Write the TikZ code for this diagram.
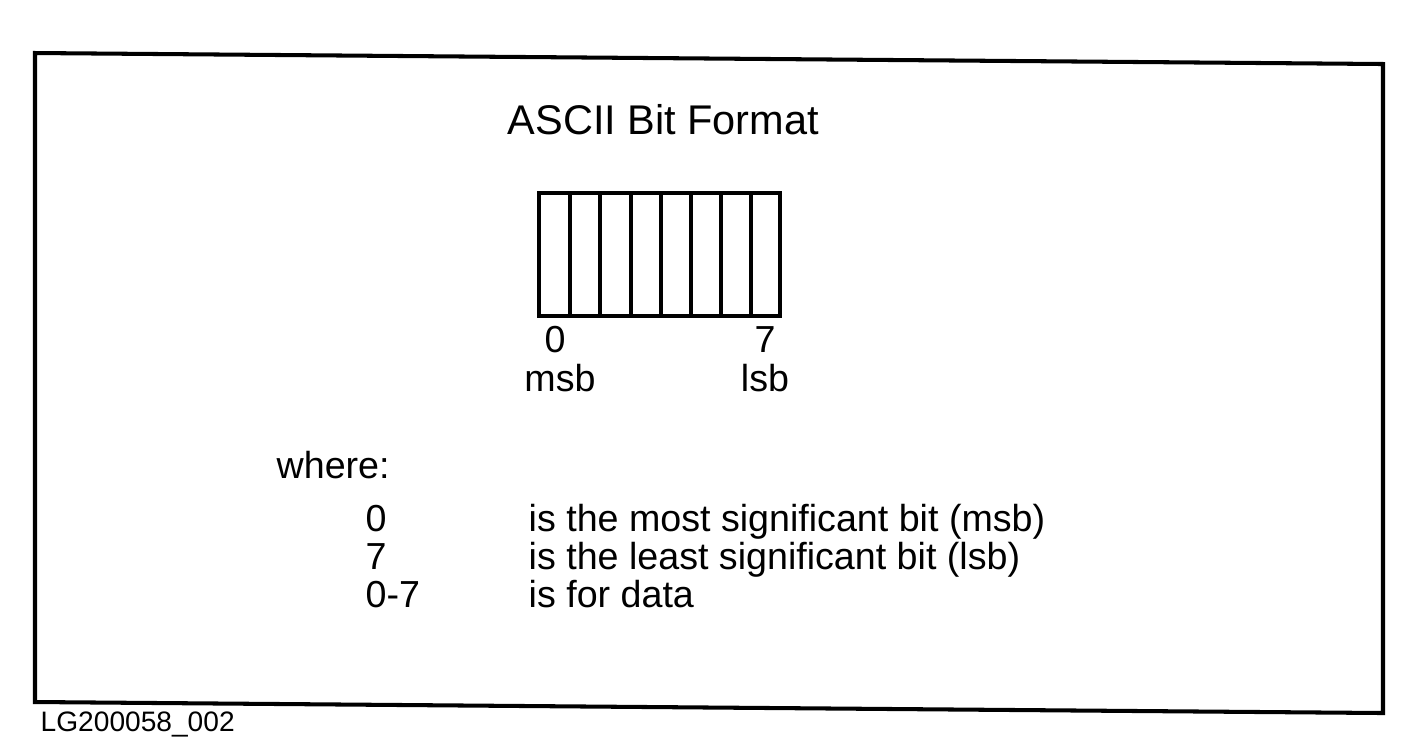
\documentclass[tikz,border=0pt]{standalone}
\usepackage{fontspec}
\setmainfont{Liberation Sans}
\usepackage{tikz}
\usetikzlibrary{positioning}

\tikzset{
  frameline/.style={line width=1.15pt, line join=miter},
  cellline/.style={line width=0.95pt},
  txt/.style={inner sep=0pt, font=\fontsize{10.7pt}{12pt}\selectfont},
}

\begin{document}
\begin{tikzpicture}[x=0.01cm, y=-0.01cm]
  \useasboundingbox (0,0) rectangle (1415,747);
  % outer frame (scan is a little skewed)
  \draw[frameline] (35,53) -- (1383,64) -- (1383,713) -- (35,702) -- cycle;
  \node[txt, anchor=base west, font=\fontsize{11.8pt}{13pt}\selectfont] (title) at (507,134) {ASCII Bit Format};
  % the eight bit cells
  \draw[cellline] (539,193) rectangle (780,316);
  \draw[cellline] (570,193) -- (570,316);
  \draw[cellline] (600,193) -- (600,316);
  \draw[cellline] (631,193) -- (631,316);
  \draw[cellline] (661,193) -- (661,316);
  \draw[cellline] (691,193) -- (691,316);
  \draw[cellline] (721,193) -- (721,316);
  \draw[cellline] (751,193) -- (751,316);
  \node[txt, anchor=base] (bitzero) at (555,352) {0};
  \node[txt, anchor=base] (bitseven) at (765,352) {7};
  \node[txt, anchor=base] (msb) at (560,391) {msb};
  \node[txt, anchor=base] (lsb) at (765,391) {lsb};
  % legend
  \node[txt, anchor=base west] (where) at (276,478) {where:};
  \node[txt, anchor=base west] (keyzero) at (365,531) {0};
  \node[txt, anchor=base west] (keyseven) at (365,569) {7};
  \node[txt, anchor=base west] (keyall) at (365,607) {0-7};
  \node[txt, anchor=base west] (txtzero) at (528,531) {is the most significant bit (msb)};
  \node[txt, anchor=base west] (txtseven) at (528,569) {is the least significant bit (lsb)};
  \node[txt, anchor=base west] (txtall) at (528,607) {is for data};
  \node[txt, anchor=base west, font=\fontsize{8pt}{9pt}\selectfont] (figid) at (40,731) {LG200058\_002};
\end{tikzpicture}
\end{document}
